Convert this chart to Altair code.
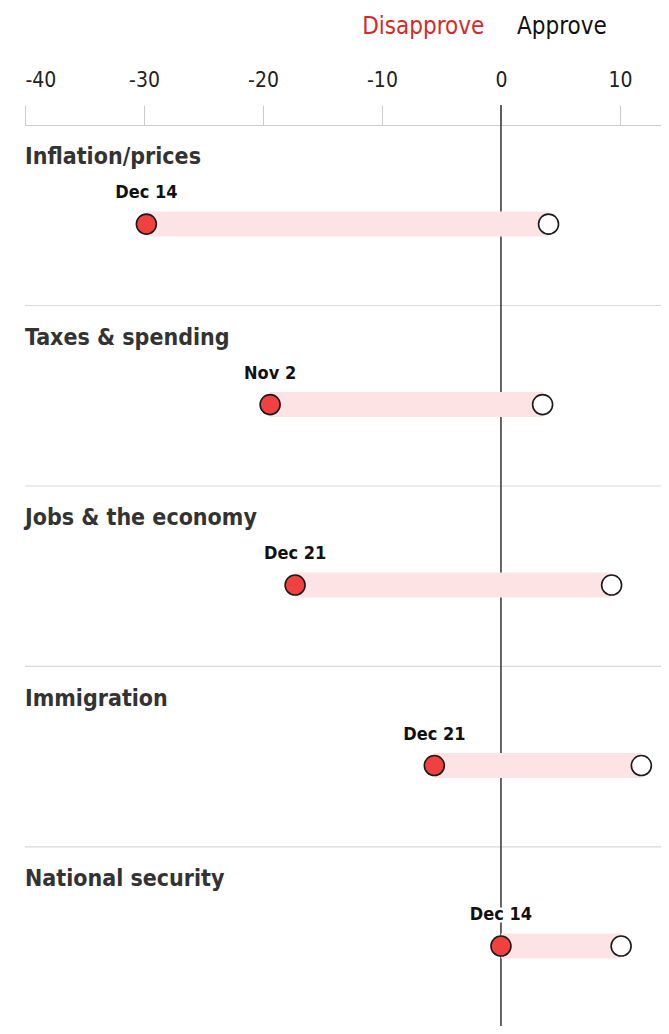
import altair as alt
import pandas as pd

categories = ["Inflation/prices", "Taxes & spending", "Jobs & the economy", "Immigration", "National security"]
disapprove = [-29.8, -19.4, -17.3, -5.6, 0.0]
approve = [4.0, 3.5, 9.3, 11.8, 10.1]
dates = ["Dec 14", "Nov 2", "Dec 21", "Dec 21", "Dec 14"]
ticks = [-40, -30, -20, -10, 0, 10]
legend_labels = ["Disapprove", "Approve"]
legend_x = [-1.4, 1.35]

FONT = "Liberation Sans Narrow, DejaVu Sans Condensed, Roboto, sans-serif"
W, H = 636, 901
XDOM = [-40, 13.45]
YDOM = [0, 4.992]

rows = list(range(len(categories)))
df = pd.DataFrame({
    "cat": categories,
    "dis": disapprove,
    "app": approve,
    "date": dates,
    "row": rows,
})
df["dot_y"] = df["row"] + 0.549
df["date_y"] = df["row"] + 0.377
df["cat_y"] = df["row"] + 0.18

sep = pd.DataFrame({"row": rows[1:]})
legend = pd.DataFrame({"label": legend_labels, "x": legend_x})

xs = alt.Scale(domain=XDOM, nice=False, zero=False)
ys = alt.Scale(domain=YDOM, reverse=True, nice=False, zero=False)

base = alt.Chart(df)

axis_layer = alt.Chart(pd.DataFrame({"v": [0]})).mark_point(opacity=0).encode(
    x=alt.X("v:Q", scale=xs, axis=alt.Axis(
        orient="top", values=ticks, title=None, grid=False,
        labelExpr="datum.value + ''",
        tickSize=20, tickColor="#cccccc", tickWidth=1,
        domainColor="#cccccc", domainWidth=1,
        labelFont=FONT, labelFontSize=21, labelColor="#222222", labelPadding=15,
    )),
    y=alt.Y("v:Q", scale=ys, axis=None),
)

separators = alt.Chart(sep).mark_rule(color="#d9d9d9", strokeWidth=1.2).encode(
    y=alt.Y("row:Q", scale=ys),
    x=alt.value(0),
    x2=alt.value(W),
)

zero_rule = alt.Chart(pd.DataFrame({"z": [0]})).mark_rule(color="#333333", strokeWidth=1.5).encode(
    x=alt.X("z:Q", scale=xs),
    y=alt.value(-20),
    y2=alt.value(H),
)

bars = base.mark_rule(color="#fde3e3", strokeWidth=25, strokeCap="butt").encode(
    x=alt.X("dis:Q", scale=xs),
    x2="app:Q",
    y=alt.Y("dot_y:Q", scale=ys),
)

cat_text = base.mark_text(align="left", baseline="middle", font=FONT, fontSize=23,
                          fontWeight="bold", color="#333333").encode(
    x=alt.value(0),
    y=alt.Y("cat_y:Q", scale=ys),
    text="cat:N",
)

date_halo = base.mark_text(align="center", baseline="middle", font=FONT, fontSize=18,
                           fontWeight="bold", color="white", stroke="white", strokeWidth=5).encode(
    x=alt.X("dis:Q", scale=xs),
    y=alt.Y("date_y:Q", scale=ys),
    text="date:N",
)
date_text = base.mark_text(align="center", baseline="middle", font=FONT, fontSize=18,
                           fontWeight="bold", color="#111111").encode(
    x=alt.X("dis:Q", scale=xs),
    y=alt.Y("date_y:Q", scale=ys),
    text="date:N",
)

red_dots = base.mark_point(shape="circle", filled=True, fill="#f04141", stroke="#1a1a1a",
                           strokeWidth=1.6, size=400, opacity=1).encode(
    x=alt.X("dis:Q", scale=xs),
    y=alt.Y("dot_y:Q", scale=ys),
)
white_dots = base.mark_point(shape="circle", filled=True, fill="white", stroke="#1a1a1a",
                             strokeWidth=1.6, size=400, opacity=1).encode(
    x=alt.X("app:Q", scale=xs),
    y=alt.Y("dot_y:Q", scale=ys),
)

leg = alt.Chart(legend)
legend_dis = leg.transform_filter(alt.datum.label == "Disapprove").mark_text(
    baseline="middle", align="right", font=FONT, fontSize=24, color="#d62a2a").encode(
    x=alt.X("x:Q", scale=xs),
    y=alt.value(-98),
    text="label:N",
)
legend_app = leg.transform_filter(alt.datum.label == "Approve").mark_text(
    baseline="middle", align="left", font=FONT, fontSize=24, color="#111111").encode(
    x=alt.X("x:Q", scale=xs),
    y=alt.value(-98),
    text="label:N",
)

chart = alt.layer(
    axis_layer, separators, zero_rule, bars, cat_text, date_halo, date_text,
    red_dots, white_dots, legend_dis, legend_app,
).properties(
    width=W, height=H,
    autosize=alt.AutoSizeParams(type="none"),
    padding={"left": 17, "top": 117, "right": 0, "bottom": 0},
).configure_view(stroke=None)

chart.save("out.html", embed_options={"renderer": "svg", "actions": False})
